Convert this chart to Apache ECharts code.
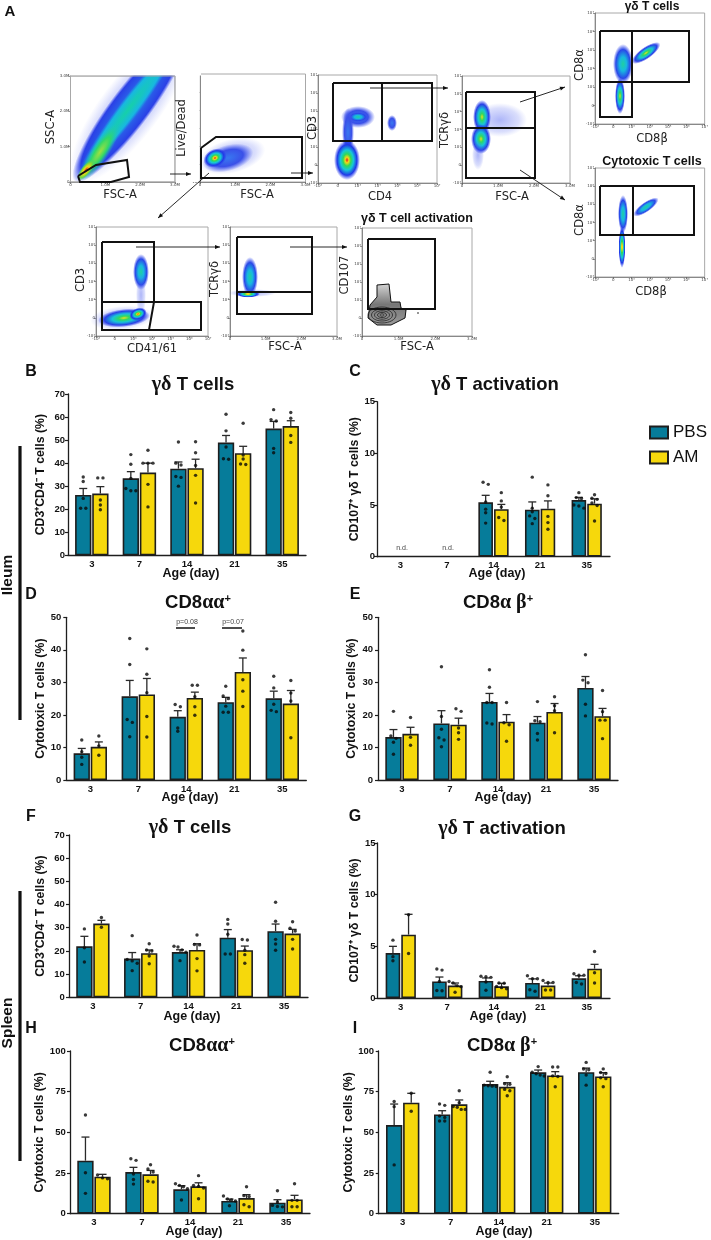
<!DOCTYPE html>
<html><head><meta charset="utf-8">
<style>html,body{margin:0;padding:0;background:#fff}#c{width:711px;height:1240px}</style>
<script src="https://cdn.jsdelivr.net/npm/echarts@6/dist/echarts.min.js"></script>
</head><body><div id="c"></div>
<script>
// ---- categories / tick labels
const ages = ['3','7','14','21','35'];
const fscTicks = ['0','1.0M','2.0M','3.0M'];
const logTicks = ['-10³','0','10³','10⁴','10⁵','10⁶','10⁷'];

// ---- B: ileum gamma-delta T cells
const bPbsMean=[26.2,33.4,37.6,48.9,55], bPbsTop=[29,36.3,40.5,52,58.1];
const bPbsDots=[[34,32,24.7,20.4,20.4],[43.7,39.5,33.4,29,28,28],[49.2,40,39.2,34.2,33.8,30],[61.2,54,47,41.9,41.7],[63.2,58.9,58.3,46.4,44.5]];
const bAmMean=[26.8,35.9,37.8,44.3,56.1], bAmTop=[29.8,40,41.7,47.3,58.4];
const bAmDots=[[33.6,33.6,24,21.8,19.8],[45.6,40,40,40,30.8,21],[49.3,44.5,39,34.7,22.7],[57.3,43.5,41.8,39.6,39.4],[62,59.5,52,49]];
// ---- C: ileum activation
const cPbsMean=[null,null,5.26,4.55,5.48], cPbsTop=[null,null,5.94,5.3,5.74];
const cPbsDots=[[],[],[7.2,7.0,5.3,4.6,4.25,3.25],[7.7,4.7,4.35,3.95,3.7,3.2],[6.2,5.72,5.63,5,4.9,4.7]];
const cAmMean=[null,null,4.6,4.65,5.13], cAmTop=[null,null,5.06,5.4,5.6];
const cAmDots=[[],[],[6.2,5.4,4.8,3.8,3.5],[6.95,5.9,3.9,3.3,2.65],[6,5.65,5.55,5.2,4.95,3.45]];
// ---- D: ileum CD8aa
const dPbsMean=[8.2,25.7,19.4,23.9,25.1], dPbsTop=[9.7,30.6,21.3,25.4,27.3];
const dPbsDots=[[12.3,8.7,7,4.8],[43.5,35.5,18.6,17.7,13.3],[23.2,22.5,16,15],[28.8,25.8,25,22.7,20.8,20.8],[31.9,28.3,23.3,21.4,21]];
const dAmMean=[10.2,26.3,25.2,33.2,23.5], dAmTop=[11.7,31.2,27,37.5,27.5];
const dAmDots=[[13.5,10.5,7.6],[40.3,32.5,26.8,19.5,13.2],[29.1,29.1,25.6,22.5,19.9],[45.8,39.9,30.8,27.3,22.6],[30.6,26.7,24.3,13]];
// ---- E: ileum CD8ab
const ePbsMean=[13.2,17.4,24,17.6,28.3], ePbsTop=[15.5,21.3,26.6,19.5,31.8];
const ePbsDots=[[21.1,13.5,12.8,11.6,7.9],[34.8,19.5,15.6,13,12.3,10.2],[33.9,28.5,23.8,23.8,17.5,17.2],[24.1,18.2,17.9,14.3,12.3],[38.5,30.7,29.9,23.3,19.7]];
const eAmMean=[14.2,17,17.9,20.9,19.6], eAmTop=[16.2,19,20.1,23.5,22];
const eAmDots=[[19.2,13.1,10.7],[21.9,21.1,16,14.5,12.5],[23.8,17.6,17,11.9],[25.6,22.8,21.3,14.5],[27.5,21,18.4,18.4,12.7]];
// ---- F: spleen gamma-delta T cells
const fPbsMean=[22,16.7,19.5,25.7,28.5], fPbsTop=[26.3,19.3,20.5,29.2,31.6];
const fPbsDots=[[29.5,21.4,15.2],[26.6,16.3,15.7,14.7,11.5],[22,21.7,20.4,19.5,15.8],[33.6,31.6,27.2,18.7,18.7],[41,32.8,25,23,20.3]];
const fAmMean=[31.8,19,20.4,20.3,27.5], fAmTop=[33.2,20.4,23.1,22.1,29.3];
const fAmDots=[[34.4,30.2],[23.1,20.4,20,17.8,14.5],[26.9,22.8,22.6,16.7,11.4],[24.9,24.7,20.3,18.4,14.7],[32.6,29.8,28.6,25,20.8]];
// ---- G: spleen activation
const gPbsMean=[4.35,1.6,1.65,1.45,1.9], gPbsTop=[5,2.03,1.94,1.85,2.15];
const gPbsDots=[[5.6,4,3.6],[2.8,2.7,1.6,0.73,0.7],[2.1,2.05,2,1.55,0.75],[2.15,1.87,1.87,0.8,0.65],[2.35,2.2,2.2,1.5,1.35]];
const gAmMean=[6.13,1.2,1.13,1.2,2.84], gAmTop=[8.1,1.45,1.42,1.45,3.26];
const gAmDots=[[8.05,4.3],[1.6,1.45,1.2,1.1,0.55],[1.45,1.43,1.12,1,0.9],[1.7,1.5,1.5,0.77,0.77],[4.5,2.45,1.45]];
// ---- H: spleen CD8aa
const hPbsMean=[32.6,25.6,15,7.8,6.8], hPbsTop=[47.1,28.5,17.2,9,8.6];
const hPbsDots=[[60.7,25.2,12.5],[33.8,32.8,24.4,21,18.2],[18.4,17.4,16.6,15.4,8.4],[10.9,9,8.4,7.8,4.9],[14.1,7.2,5.1,4.4,4.2]];
const hAmMean=[22.7,24.2,16.8,9.6,8.8], hAmTop=[24.2,26.6,19,11.7,11.3];
const hAmDots=[[23.8,22,21.5],[30.1,27.5,25.6,19.9,19.5],[23.4,17.4,16.8,15.8,9.2],[16.6,11.1,10.5,5.5,4.3],[18.4,8.2,8.2,4.3,4.3]];
// ---- I: spleen CD8ab
const iPbsMean=[54.5,61,79.7,86.9,87], iPbsTop=[67.4,63.3,81.4,88.3,89.5];
const iPbsDots=[[69,65.8,30],[67.4,66.6,60,59.2,57,57],[86.9,79,78.6,78.4,78.2],[90.4,87,86,85.2,84.6],[93,88.9,88.5,85.2,79]];
const iAmMean=[68.2,67.2,78,85,84.4], iAmTop=[74,69.9,80.5,87.3,86.7];
const iAmDots=[[74,63],[75.6,68.2,65.9,65.4,64.1,64.1],[84.2,79.9,79.5,76.4,75.6,72.5],[90.2,90.2,84.7,84.3,78],[89,86.8,86.2,83.5,83,78]];

// ---- layout & styling
const TEAL='#067c9a', YELLOW='#f6d80c', INK='#1e1e1e';
const SANS='"Liberation Sans",Arial,sans-serif', SERIF='"Liberation Serif",serif', DV='"DejaVu Sans",sans-serif';
const gd='{g|γδ}{b| T cells}', ga='{g|γδ}{b| T activation}', aa='{b|CD8}{g|αα}{s|+}', ab='{b|CD8}{g|α β}{s|+}';
const yGd='CD3⁺CD4⁻ T cells (%)', yAct='CD107⁺ γδ T cells (%)', yCyt='Cytotoxic T cells (%)';
const panels=[
 {id:'B',lx:26,ly:372,title:gd,tx:193,ty:386,yName:yGd,ng:20,left:68,top:394,w:238,h:161.3,max:70,step:10,off:1,barW:16.3,sep:.18,ax:191,ay:574,pm:bPbsMean,pt:bPbsTop,pd:bPbsDots,am:bAmMean,at:bAmTop,ad:bAmDots},
 {id:'C',lx:350,ly:372,title:ga,tx:495,ty:386,yName:yAct,ng:15,left:377,top:401.7,w:233,h:155,max:15,step:5,off:0,barW:14.6,sep:.168,ax:497,ay:574,pm:cPbsMean,pt:cPbsTop,pd:cPbsDots,am:cAmMean,at:cAmTop,ad:cAmDots},
 {id:'D',lx:26,ly:595,title:aa,tx:198,ty:604,yName:yCyt,ng:17,left:66.3,top:617.3,w:240,h:162.7,max:50,step:10,off:3,barW:16.3,sep:.178,ax:190,ay:798,pm:dPbsMean,pt:dPbsTop,pd:dPbsDots,am:dAmMean,at:dAmTop,ad:dAmDots},
 {id:'E',lx:350,ly:595,title:ab,tx:498,ty:604,yName:yCyt,ng:17,left:378,top:617.3,w:240,h:162.7,max:50,step:10,off:3,barW:16.3,sep:.178,ax:503,ay:798,pm:ePbsMean,pt:ePbsTop,pd:ePbsDots,am:eAmMean,at:eAmTop,ad:eAmDots},
 {id:'F',lx:26,ly:817,title:gd,tx:190,ty:829,yName:yGd,ng:20,left:69,top:835,w:239,h:162.3,max:70,step:10,off:2.3,barW:16.3,sep:.178,ax:192,ay:1017,pm:fPbsMean,pt:fPbsTop,pd:fPbsDots,am:fAmMean,at:fAmTop,ad:fAmDots},
 {id:'G',lx:350,ly:817,title:ga,tx:502,ty:830,yName:yAct,ng:16,left:377.5,top:843,w:232.5,h:155,max:15,step:5,off:0,barW:14.6,sep:.168,ax:498,ay:1017,pm:gPbsMean,pt:gPbsTop,pd:gPbsDots,am:gAmMean,at:gAmTop,ad:gAmDots},
 {id:'H',lx:26,ly:1029,title:aa,tx:202,ty:1047,yName:yCyt,ng:20,left:70,top:1051,w:240,h:162.7,max:100,step:25,off:2.3,barW:16.3,sep:.178,ax:194,ay:1232,pm:hPbsMean,pt:hPbsTop,pd:hPbsDots,am:hAmMean,at:hAmTop,ad:hAmDots},
 {id:'I',lx:350,ly:1029,title:ab,tx:502,ty:1047,yName:yCyt,ng:17,left:378.7,top:1051,w:240,h:162.7,max:100,step:25,off:2.7,barW:16.3,sep:.178,ax:504,ay:1232,pm:iPbsMean,pt:iPbsTop,pd:iPbsDots,am:iAmMean,at:iAmTop,ad:iAmDots}
];

const grids=[],xAxes=[],yAxes=[],series=[],titles=[],g=[];
function text(t,x,y,o){o=o||{};g.push({type:'text',x,y,rotation:o.rot||0,z:20,style:{text:t,font:(o.w||'normal')+' '+(o.s||11)+'px '+(o.f||SANS),fill:o.c||'#111',align:'center',verticalAlign:'middle'}});}
function line(pts,o){o=o||{};g.push({type:'polyline',z:o.z||12,shape:{points:pts},style:{stroke:o.c||'#111',lineWidth:o.lw||2,fill:o.fill||null,lineJoin:'miter'}});}
function arrow(a,b){line([a,b],{lw:.9,z:13});const an=Math.atan2(b[1]-a[1],b[0]-a[0]),L=5,W=2;
 g.push({type:'polygon',z:13,shape:{points:[b,[b[0]-L*Math.cos(an)+W*Math.sin(an),b[1]-L*Math.sin(an)-W*Math.cos(an)],[b[0]-L*Math.cos(an)-W*Math.sin(an),b[1]-L*Math.sin(an)+W*Math.cos(an)]]},style:{fill:'#111'}});}

// spread close-valued dots side by side, the way the plotting program does
function swarm(vals,mid,pxY,pxX){
 const s=[...vals].sort((a,b)=>b-a),out=[];let i=0;
 const pat={1:[0],2:[-2.6,2.6],3:[-5,0,5],4:[-6,-2,2,6],5:[-7,-3.5,0,3.5,7],6:[-7.5,-4.5,-1.5,1.5,4.5,7.5]};
 while(i<s.length){let j=i;while(j+1<s.length&&(s[j]-s[j+1])*pxY<3.1)j++;
  const n=j-i+1;for(let k=0;k<n;k++)out.push([mid+pat[n][k]/pxX,s[i+k]]);i=j+1;}
 return out;
}
panels.forEach((p,n)=>{
 grids.push({left:p.left,top:p.top,width:p.w,height:p.h});
 xAxes.push({type:'category',gridIndex:n,data:ages,boundaryGap:true,axisTick:{show:false},
  axisLine:{lineStyle:{color:INK,width:1.3}},axisLabel:{margin:4,fontFamily:SANS,fontWeight:'bold',fontSize:9.5,color:'#111',interval:0}});
 xAxes.push({type:'value',gridIndex:n,min:0,max:5,show:false});
 yAxes.push({type:'value',gridIndex:n,min:0,max:p.max,interval:p.step,offset:p.off,splitLine:{show:false},
  axisLine:{show:true,lineStyle:{color:INK,width:1.3}},axisTick:{show:true,length:3,lineStyle:{color:INK,width:1.2}},
  axisLabel:{margin:2,fontFamily:SANS,fontWeight:'bold',fontSize:9.5,color:'#111'},
  name:p.yName,nameLocation:'middle',nameGap:p.ng,nameRotate:90,nameTextStyle:{fontFamily:SANS,fontWeight:'bold',fontSize:12.3,color:'#111'}});
 titles.push({text:p.title,left:p.tx,top:p.ty-11,textAlign:'center',padding:0,textStyle:{rich:{
  b:{fontFamily:SANS,fontWeight:'bold',fontSize:18.5,color:'#111'},g:{fontFamily:SERIF,fontSize:20,color:'#111'},s:{fontFamily:SANS,fontSize:11,color:'#111',verticalAlign:'top',padding:[0,0,6,0]}}}});
 const pxY=p.h/p.max,pxX=p.w/5,gap=Math.max(0,(2*p.sep*pxX-p.barW)/p.barW*100)+'%';
 [['PBS',TEAL,p.pm,p.pt,p.pd,-p.sep],['AM',YELLOW,p.am,p.at,p.ad,p.sep]].forEach(([name,col,mean,top,dots,sh])=>{
  series.push({type:'bar',name,xAxisIndex:2*n,yAxisIndex:n,data:mean,barWidth:p.barW,barGap:gap,z:2,
   itemStyle:{color:col,borderColor:INK,borderWidth:1.6}});
  series.push({type:'custom',name:name+' SEM',xAxisIndex:2*n+1,yAxisIndex:n,z:3,silent:true,clip:false,
   data:mean.map((m,i)=>m==null?null:[i+.5+sh,m,top[i]]).filter(Boolean),encode:{x:0,y:[1,2]},
   renderItem:(ctx,api)=>{const a=api.coord([api.value(0),api.value(1)]),b=api.coord([api.value(0),api.value(2)]);
    const st={stroke:'#2a2a2a',lineWidth:1.3};
    return {type:'group',children:[{type:'line',shape:{x1:a[0],y1:a[1],x2:b[0],y2:b[1]},style:st},{type:'line',shape:{x1:b[0]-4,y1:b[1],x2:b[0]+4,y2:b[1]},style:st}]};}});
  series.push({type:'scatter',name:name+' animals',xAxisIndex:2*n+1,yAxisIndex:n,z:4,silent:true,symbolSize:3.4,itemStyle:{color:'#0a0a0a'},
   data:dots.flatMap((d,i)=>swarm(d,i+.5+sh,pxY,pxX))});
 });
 text(p.id,p.lx+5,p.ly,{w:'bold',s:16});
 text('Age (day)',p.ax,p.ay,{w:'bold',s:12.5});
});

// n.d. and p-value annotations
text('n.d.',402,548,{s:7,c:'#444'});text('n.d.',448,548,{s:7,c:'#444'});
text('p=0.08',187,622,{s:7,c:'#444'});line([[176,628],[195,628]],{lw:1.5});
text('p=0.07',233,622,{s:7,c:'#444'});line([[222,628],[242,628]],{lw:1.5});
// tissue brackets
line([[20,446],[20,720]],{lw:3.2});line([[20,891],[20,1161]],{lw:3.2});
text('Ileum',8,575,{w:'bold',s:15.5,rot:Math.PI/2});
text('Spleen',8,1023,{w:'bold',s:15.5,rot:Math.PI/2});

// ---- panel A: gating strategy (schematic flow plots)
text('A',10,12,{w:'bold',s:15});
const plots=[
 {l:70.5,t:76,r:175,b:182,xt:fscTicks,yt:fscTicks},
 {l:200,t:74,r:305.5,b:182,xt:fscTicks,yt:logTicks},
 {l:318,t:75,r:437,b:183,xt:logTicks,yt:logTicks},
 {l:462,t:76,r:570,b:183,xt:fscTicks,yt:logTicks},
 {l:595,t:13,r:705,b:124,xt:logTicks,yt:logTicks},
 {l:595,t:168,r:705,b:277,xt:logTicks,yt:logTicks},
 {l:96,t:227,r:208,b:336,xt:logTicks,yt:logTicks},
 {l:230,t:227,r:337,b:336,xt:fscTicks,yt:logTicks},
 {l:362,t:228,r:472,b:336,xt:fscTicks,yt:logTicks}
];
plots.forEach(f=>{
 const i=grids.length;grids.push({left:f.l,top:f.t,width:f.r-f.l,height:f.b-f.t,show:true,borderColor:'#a8a8a8',borderWidth:1,backgroundColor:'#fff'});
 const ax=(t)=>({type:'value',gridIndex:i,min:0,max:t.length-1,interval:1,splitLine:{show:false},axisLine:{onZero:false,lineStyle:{color:'#555',width:.6}},
  axisTick:{length:2,lineStyle:{color:'#555',width:.6}},axisLabel:{fontSize:4,margin:1,color:'#444',fontFamily:DV,formatter:(v)=>t[Math.round(v)]||''}});
 xAxes.push(Object.assign(ax(f.xt),{position:'bottom'}));yAxes.push(Object.assign(ax(f.yt),{position:'left'}));
});
const HOT=[[0,'#e8201c'],[.14,'#f4d818'],[.3,'#30d858'],[.5,'#16c8d8'],[.76,'#2038e8'],[1,'rgba(40,60,240,0)']];
const WARM=[[0,'#e8e020'],[.2,'#30d860'],[.45,'#18c4d8'],[.75,'#2a40e6'],[1,'rgba(40,60,240,0)']];
const COOL=[[0,'#20cfa0'],[.35,'#18b8e0'],[.72,'#2a48e8'],[1,'rgba(60,80,240,0)']];
const SOFT=[[0,'#3878f0'],[.6,'#3a50e8'],[1,'rgba(70,90,240,0)']];
const HALO=[[0,'rgba(60,80,240,.42)'],[.7,'rgba(70,90,240,.2)'],[1,'rgba(80,100,240,0)']];
function blob(cx,cy,rx,ry,deg,stops){g.push({type:'circle',z:5,x:cx,y:cy,scaleX:rx/10,scaleY:ry/10,rotation:(deg||0)*Math.PI/180,shape:{cx:0,cy:0,r:10},
 style:{fill:{type:'radial',x:.5,y:.5,r:.5,colorStops:stops.map(s=>({offset:s[0],color:s[1]}))}}});}
// plot 1 SSC/FSC diagonal; overflow beyond the frame's top and right is masked below
blob(130,108,92,30,53,HALO);blob(130,108,92,20,53,[[0,'#22b8e0'],[.55,'#2a58e8'],[.85,'#2a40e6'],[1,'rgba(40,60,240,0)']]);
blob(128,110,82,10,53,[[0,'#16d0a8'],[.7,'#18b8e0'],[1,'rgba(24,160,230,0)']]);
blob(100,152,34,9,57,[[0,'#a0e040'],[.5,'#30d868'],[1,'rgba(30,200,180,0)']]);
blob(86,170,13,5,52,[[0,'#e82818'],[.35,'#f4d818'],[.7,'#70d840'],[1,'rgba(60,210,120,0)']]);
[[71,20,130,55.6],[175.6,60,24,122]].forEach(r=>g.push({type:'rect',z:6,shape:{x:r[0],y:r[1],width:r[2],height:r[3]},style:{fill:'#fff'}}));
g.push({type:'rect',z:7,shape:{x:70.5,y:76,width:104.5,height:106},style:{fill:null,stroke:'#a8a8a8',lineWidth:1}});
// plot 2
blob(232,156,34,17,14,HALO);blob(228,158,26,13,16,SOFT);blob(215,158,12,9,25,HOT);
// plot 3
blob(358,117,17,11,0,SOFT);blob(358,117,10,5,0,COOL);blob(348,132,6,24,0,SOFT);blob(392,123,5,8,0,SOFT);blob(347,160,13,20,0,HOT);
// plot 4
blob(500,120,27,17,0,HALO);blob(482,117,9,17,0,WARM);blob(481,139,10,15,0,WARM);blob(478,155,6,15,0,HALO);
// plot 5 gamma-delta CD8
blob(623,64,10,20,0,COOL);blob(620,96,5,18,0,WARM);blob(646,53,6,17,-55,WARM);
// plot 6 cytotoxic CD8
blob(623,214,5,19,0,COOL);blob(622,247,3.5,21,0,HOT);blob(646,207,5,15,-55,COOL);
// plot 7 CD3 / CD41/61
blob(141,272,8,18,0,COOL);blob(141,295,5,22,0,HALO);blob(122,318,32,12,5,HALO);blob(124,318,26,9,6,WARM);blob(138,314,9,6,20,HOT);
// plot 8
blob(250,277,8,20,0,COOL);blob(252,293,24,4,0,HALO);blob(248,294,12,3.6,0,HOT);
// plot 9 contour
g.push({type:'polygon',z:6,shape:{points:[[377,285],[389,284],[391,302],[400,302],[401,308],[406,310],[405,318],[391,325],[377,325],[368,318],[370,305],[377,297]]},
 style:{fill:{type:'linear',x:0,y:0,x2:0,y2:1,colorStops:[{offset:0,color:'#d6d6d6'},{offset:.5,color:'#777'},{offset:1,color:'#9a9a9a'}]},stroke:'#111',lineWidth:1}});
[[14,8],[10.5,6],[7.5,4.2],[4.5,2.6],[2,1.2]].forEach(r=>g.push({type:'ellipse',z:7,shape:{cx:382,cy:315,rx:r[0],ry:r[1]},style:{fill:null,stroke:'#222',lineWidth:.8}}));
g.push({type:'circle',z:7,shape:{cx:418,cy:313,r:.8},style:{fill:'#111'}});
// gates
const gate=(pts)=>line(pts.concat([pts[0]]),{lw:2,z:12});
gate([[78,176],[96,165],[127,160],[129,177],[111,182],[80,182]]);
gate([[201,148],[216,137],[302,137],[302,178],[201,178]]);
gate([[333,83],[432,83],[432,141],[333,141]]);line([[382,83],[382,141]]);
gate([[466,92],[535,92],[535,178],[466,178]]);line([[466,128],[535,128]]);
gate([[600,31],[689,31],[689,82],[600,82]]);line([[632,31],[632,117]]);gate([[600,82],[632,82],[632,117],[600,117]]);
gate([[600,186],[694,186],[694,235],[600,235]]);line([[633,186],[633,235]]);
gate([[102,242],[154,242],[154,302],[149,330],[102,330]]);gate([[102,302],[201,302],[201,330],[102,330]]);
gate([[237,237],[312,237],[312,314],[237,314]]);line([[237,292],[312,292]]);
gate([[368,239],[435,239],[435,309],[368,309]]);
// arrows
[[[170,174],[191,174]],[[291,173],[313,173]],[[370,88],[448,88]],[[520,102],[565,87]],[[520,170],[565,200]],[[209,173],[158,218]],[[136,247],[220,247]],[[290,247],[347,247]]].forEach(a=>arrow(a[0],a[1]));
// plot labels
const R=Math.PI/2,flow={f:DV,s:11.5,c:'#222'};
[['SSC-A',51,127],['Live/Dead',182,128],['CD3',313,128],['TCRγδ',445,130],['CD8α',580,65],['CD8α',580,220],['CD3',81,280],['TCRγδ',215,279],['CD107',345,275]].forEach(a=>text(a[0],a[1],a[2],Object.assign({rot:R},flow)));
[['FSC-A',120,195],['FSC-A',257,195],['CD4',380,197],['FSC-A',512,197],['CD8β',652,139],['CD8β',651,292],['CD41/61',152,349],['FSC-A',285,347],['FSC-A',417,347]].forEach(a=>text(a[0],a[1],a[2],flow));
text('γδ T cells',652,7,{w:'bold',s:12});text('Cytotoxic T cells',652,162,{w:'bold',s:12.5});text('γδ T cell activation',417,219,{w:'bold',s:12.5});

const chart=echarts.init(document.getElementById('c'),null,{renderer:'canvas'});
chart.setOption({animation:false,backgroundColor:'#fff',title:titles,grid:grids,xAxis:xAxes,yAxis:yAxes,series,graphic:{elements:g},
 legend:{data:['PBS','AM'],icon:'rect',orient:'vertical',left:644,top:419,itemWidth:18,itemHeight:12,itemGap:8,selectedMode:false,textStyle:{fontFamily:SANS,fontSize:17,color:'#111'}}});
</script></body></html>
